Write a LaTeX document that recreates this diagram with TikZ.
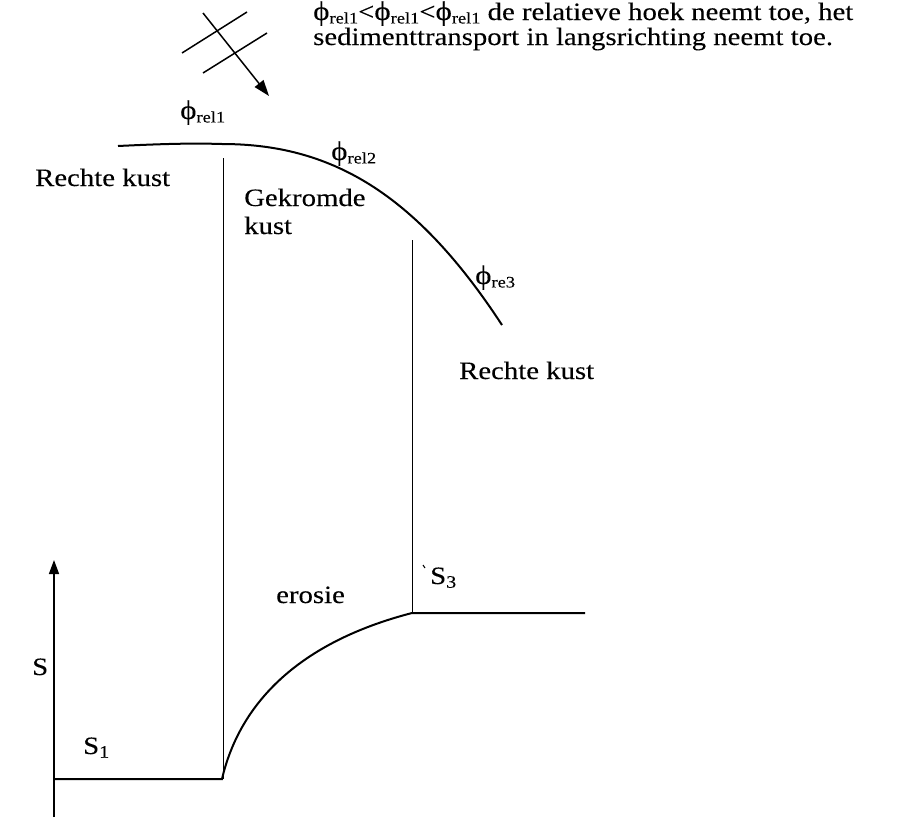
\documentclass[tikz,border=0pt]{standalone}
\usepackage{fontspec}
\setmainfont{Liberation Serif}[FakeStretch=1.15,FakeBold=0.15]
\usetikzlibrary{arrows.meta}
\newcommand{\phisub}[1]{{\fontsize{27}{27}\selectfont\char"03D5}\raisebox{-0.3ex}{\fontsize{16}{16}\selectfont #1}}
\begin{document}
\begin{tikzpicture}[x=1pt,y=-1pt,
  lbl/.style={font=\fontsize{25}{27}\selectfont, inner sep=0pt, anchor=base west},
  thick line/.style={line width=2pt},
  thin line/.style={line width=1pt}]
\useasboundingbox (0,0) rectangle (899,817);
% wave symbol
\coordinate (w1a) at (182,53); \coordinate (w1b) at (247,12);
\coordinate (w2a) at (203,73); \coordinate (w2b) at (267,33);
\coordinate (ra) at (203,13); \coordinate (rb) at (269,96);
\draw[line width=1.5pt] (w1a) -- (w1b);
\draw[line width=1.5pt] (w2a) -- (w2b);
\draw[line width=1.5pt, -{Triangle[length=16pt,width=11pt]}] (ra) -- (rb);
% top text
\node[lbl] (top1) at (313,20)
  {\phisub{rel1}<\phisub{rel1}<\phisub{rel1} de relatieve hoek neemt toe, het};
\node[lbl] (top2) at (313,45) {sedimenttransport in langsrichting neemt toe.};
% coast
\coordinate (c0) at (118,146);
\coordinate (c1) at (222,144);
\coordinate (c2) at (502,325);
\draw[thick line] (c0) .. controls (160,144) and (190,143) .. (c1)
  .. controls (330,144) and (415,192) .. (c2);
\node[lbl] (p1) at (180,119) {\phisub{rel1}};
\node[lbl] (p2) at (331,160) {\phisub{rel2}};
\node[lbl] (p3) at (475,284) {\phisub{re3}};
% verticals
\coordinate (v1t) at (223,158); \coordinate (v1b) at (223,779);
\coordinate (v2t) at (412,240); \coordinate (v2b) at (412,613);
\draw[thin line] (v1t) -- (v1b);
\draw[thin line] (v2t) -- (v2b);
% labels
\node[lbl] (rk1) at (35,186) {Rechte kust};
\node[lbl] (gk1) at (244,206) {Gekromde};
\node[lbl] (gk2) at (244,234) {kust};
\node[lbl] (rk2) at (459,379) {Rechte kust};
\node[lbl] (s3) at (430,584) {S\textsubscript{3}};
\draw[line width=1pt] (423,565) -- (425,568);
\node[lbl] (ero) at (276,603) {erosie};
\node[lbl] (s) at (32,675) {S};
\node[lbl] (s1) at (83,754) {S\textsubscript{1}};
% axis
\coordinate (ax0) at (54,817); \coordinate (ax1) at (54,560);
\draw[line width=1.5pt, -{Triangle[length=14pt,width=10pt]}] (ax0) -- (ax1);
% S graph
\coordinate (g0) at (54,779); \coordinate (g1) at (222,779);
\coordinate (g2) at (412,613); \coordinate (g3) at (585,613);
\draw[thick line] (g0) -- (g1) .. controls (240,702) and (300,642) .. (g2) -- (g3);
\end{tikzpicture}
\end{document}
